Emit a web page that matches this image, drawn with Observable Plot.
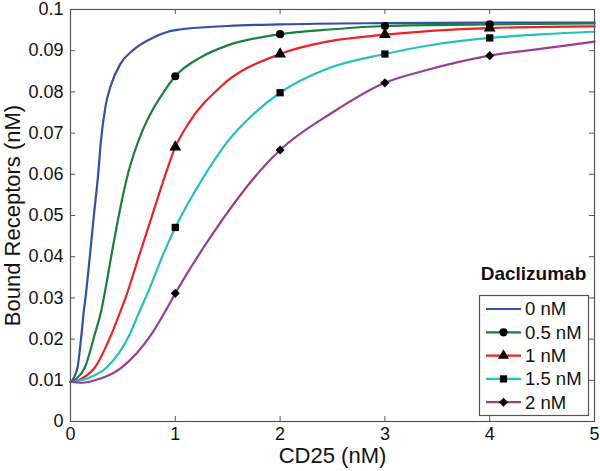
<!DOCTYPE html>
<html><head><meta charset="utf-8">
<script src="https://cdn.jsdelivr.net/npm/d3@7"></script>
<script src="https://cdn.jsdelivr.net/npm/@observablehq/plot@0.6"></script>
<style>
body{margin:0;background:#fff;font-family:"Liberation Sans",Arial,Helvetica,sans-serif;}
#wrap{position:relative;width:600px;height:471px;}
#wrap svg.legend{position:absolute;left:0;top:0;}
</style></head><body><div id="wrap"></div>
<script>
// ---- data ----
const seriesNames = ["0 nM", "0.5 nM", "1 nM", "1.5 nM", "2 nM"];
const legendTitle = "Daclizumab";
const xLabel = "CD25 (nM)";
const yLabel = "Bound Receptors (nM)";

const x_0 = [0, 0.01, 0.041, 0.067, 0.105, 0.127, 0.143, 0.184, 0.223, 0.264, 0.29, 0.334, 0.38, 0.476, 0.6, 0.79, 1.0, 1.5, 2, 3, 4, 5];
const y_0 = [0.0096, 0.0097, 0.0111, 0.0131, 0.0212, 0.0268, 0.030, 0.040, 0.050, 0.060, 0.068, 0.0765, 0.0812, 0.0868, 0.0902, 0.0932, 0.0950, 0.0960, 0.0964, 0.0967, 0.0968, 0.0968];

const x_05 = [0, 0.057, 0.137, 0.232, 0.293, 0.318, 0.388, 0.461, 0.547, 0.677, 0.78, 0.89, 1, 1.25, 1.5, 2, 2.5, 3, 4, 5];
const y_05 = [0.0096, 0.0104, 0.0131, 0.0212, 0.0268, 0.030, 0.040, 0.050, 0.060, 0.070, 0.0755, 0.080, 0.0838, 0.0885, 0.0913, 0.0940, 0.0952, 0.0960, 0.0964, 0.0966];

const x_1 = [0, 0.105, 0.232, 0.391, 0.477, 0.525, 0.652, 0.779, 0.9, 1.0, 1.13, 1.43, 2, 2.45, 3, 4, 5];
const y_1 = [0.0096, 0.0104, 0.0131, 0.0212, 0.0268, 0.030, 0.040, 0.050, 0.0595, 0.0666, 0.0725, 0.0812, 0.0892, 0.0922, 0.0939, 0.0955, 0.0959];

const x_15 = [0, 0.153, 0.344, 0.566, 0.65, 0.75, 0.875, 1, 1.25, 1.5, 1.75, 2, 2.45, 3, 3.4, 4, 4.5, 5];
const y_15 = [0.0096, 0.0104, 0.0131, 0.0212, 0.0262, 0.032, 0.040, 0.0471, 0.0585, 0.0680, 0.0747, 0.0798, 0.0856, 0.0892, 0.0912, 0.0931, 0.0940, 0.0946];

const x_2 = [0, 0.1, 0.216, 0.487, 0.773, 0.906, 1, 1.35, 1.857, 2, 2.5, 3, 3.4, 4, 4.5, 5];
const y_2 = [0.0096, 0.0094, 0.0099, 0.0131, 0.0212, 0.0268, 0.0311, 0.0453, 0.0622, 0.0659, 0.0750, 0.0822, 0.0853, 0.0888, 0.0905, 0.0922];

const markerX = [1, 2, 3, 4];
const marker_05 = [0.0838, 0.0940, 0.0960, 0.0964];
const marker_1 = [0.0666, 0.0892, 0.0939, 0.0955];
const marker_15 = [0.0471, 0.0798, 0.0892, 0.0931];
const marker_2 = [0.0311, 0.0659, 0.0822, 0.0888];

const xTicks = [0, 1, 2, 3, 4, 5];
const yTicks = [0, 0.01, 0.02, 0.03, 0.04, 0.05, 0.06, 0.07, 0.08, 0.09, 0.1];

// ---- styles ----
const colors = ["#3150a8", "#17803c", "#ec2227", "#22c0c4", "#9a3c98"];
const symbols = [null, "circle", "triangle", "square", "diamond2"];
const axisColor = "#555";
const font = '"Liberation Sans", Arial, Helvetica, sans-serif';

const curves = [[x_0, y_0], [x_05, y_05], [x_1, y_1], [x_15, y_15], [x_2, y_2]];
const markers = [null, marker_05, marker_1, marker_15, marker_2];

const W = 600, H = 471, mL = 70, mR = 6, mT = 9, mB = 50;
const xDom = [0, 5], yDom = [0, 0.1];
const tickPx = 5;
const ty = (yDom[1] - yDom[0]) * tickPx / (H - mT - mB);
const tx = (xDom[1] - xDom[0]) * tickPx / (W - mL - mR);

const marks = [];
curves.forEach(([xs, ys], i) => {
  const data = xs.map((x, j) => ({x, y: ys[j]}));
  marks.push(Plot.line(data, {x: "x", y: "y", stroke: colors[i], strokeWidth: 2.2, curve: "monotone-x"}));
});
markers.forEach((ys, i) => {
  if (!ys) return;
  const data = markerX.map((x, j) => ({x, y: ys[j]}));
  marks.push(Plot.dot(data, {x: "x", y: "y", symbol: symbols[i], fill: "black", stroke: "none", r: i === 2 ? 4.4 : 4.1}));
});
marks.push(
  Plot.ruleX(xTicks, {x: d => d, y1: yDom[0], y2: yDom[0] + ty, stroke: axisColor}),
  Plot.ruleX(xTicks, {x: d => d, y1: yDom[1], y2: yDom[1] - ty, stroke: axisColor}),
  Plot.ruleY(yTicks, {y: d => d, x1: xDom[0], x2: xDom[0] + tx, stroke: axisColor}),
  Plot.ruleY(yTicks, {y: d => d, x1: xDom[1], x2: xDom[1] - tx, stroke: axisColor}),
  Plot.frame({stroke: axisColor, strokeWidth: 1.2}),
  Plot.axisX({ticks: xTicks, tickSize: 0, tickPadding: 6, fontSize: 18, label: null, tickFormat: d => String(d)}),
  Plot.axisY({ticks: yTicks, tickSize: 0, tickPadding: 7, fontSize: 18, label: null, tickFormat: d => String(+d.toFixed(2))}),
  Plot.text([xLabel], {frameAnchor: "bottom", dy: 34, fontSize: 22, lineAnchor: "middle", textAnchor: "middle", fill: "#111"}),
  Plot.text([yLabel], {frameAnchor: "left", dx: -58, rotate: -90, fontSize: 22, lineAnchor: "middle", textAnchor: "middle", fill: "#111"})
);

const chart = Plot.plot({
  width: W, height: H,
  marginLeft: mL, marginRight: mR, marginTop: mT, marginBottom: mB,
  x: {domain: xDom}, y: {domain: yDom},
  style: {fontFamily: font, background: "white", color: "#111"},
  marks
});
const wrap = document.getElementById("wrap");
wrap.appendChild(chart);

// ---- legend overlay ----
const symMap = {circle: d3.symbolCircle, triangle: d3.symbolTriangle, square: d3.symbolSquare, diamond2: d3.symbolDiamond2};
const lg = d3.select(wrap).append("svg").attr("class", "legend").attr("width", W).attr("height", H)
  .style("font-family", font);
lg.append("text").attr("x", 533.5).attr("y", 280).attr("text-anchor", "middle")
  .attr("font-weight", "bold").attr("font-size", 19).attr("fill", "#111").text(legendTitle);
lg.append("rect").attr("x", 479.5).attr("y", 295.5).attr("width", 109).attr("height", 120)
  .attr("fill", "white").attr("stroke", axisColor).attr("stroke-width", 1.2);
seriesNames.forEach((name, i) => {
  const cy = 309 + i * 23.3;
  lg.append("line").attr("x1", 486).attr("x2", 521).attr("y1", cy).attr("y2", cy)
    .attr("stroke", colors[i]).attr("stroke-width", 2.2);
  if (symbols[i]) {
    lg.append("path").attr("d", d3.symbol(symMap[symbols[i]], Math.PI * 4.1 * 4.1)())
      .attr("transform", `translate(503.5,${cy})`).attr("fill", "black");
  }
  lg.append("text").attr("x", 525).attr("y", cy).attr("dy", "0.35em")
    .attr("font-size", 18.5).attr("fill", "#111").text(name);
});
</script></body></html>
